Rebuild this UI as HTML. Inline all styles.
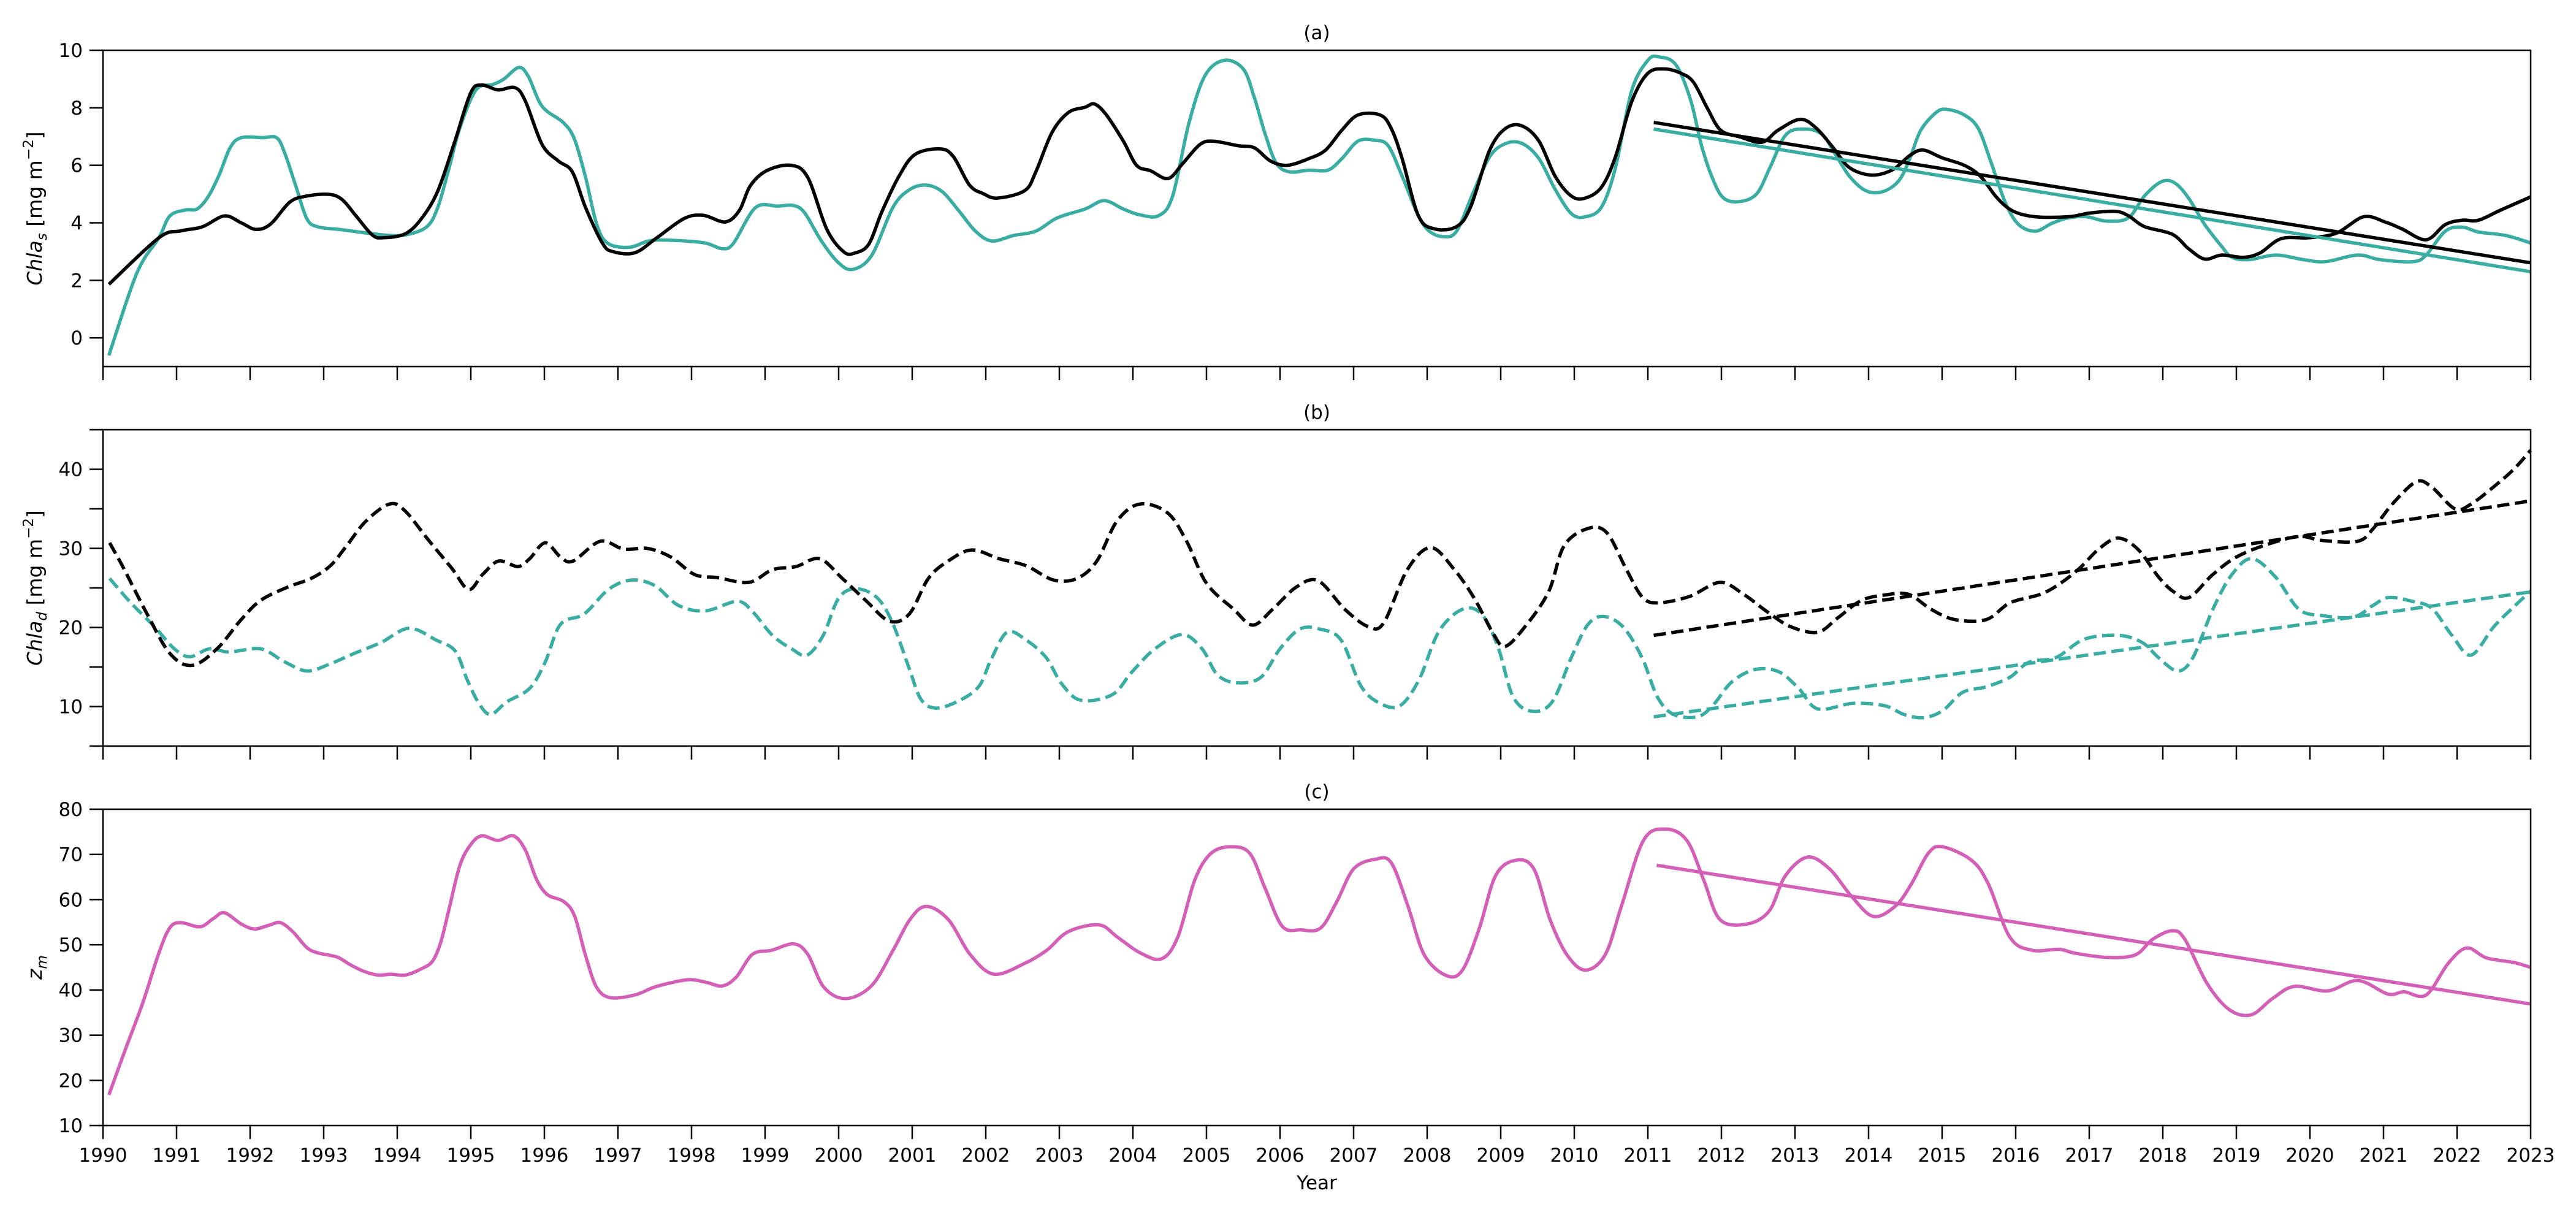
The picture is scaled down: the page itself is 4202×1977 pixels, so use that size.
<!DOCTYPE html>
<html><head><meta charset="utf-8">
<style>
html,body{margin:0;padding:0;background:#fff;}
svg{display:block;font-family:"DejaVu Sans","Liberation Sans",sans-serif;}
</style></head>
<body>
<svg id="chart" width="4202" height="1977" viewBox="0 0 4202 1977" xmlns="http://www.w3.org/2000/svg"></svg>
<script>
// ---- data (years, values) ----
const aTealX=[1990.08,1990.46,1990.76,1990.91,1991.13,1991.28,1991.43,1991.58,1991.73,1991.88,1992.17,1992.36,1992.47,1992.62,1992.77,1992.92,1993.21,1993.81,1994.11,1994.4,1994.55,1994.7,1994.85,1995.07,1995.3,1995.45,1995.65,1995.78,1995.97,1996.26,1996.41,1996.56,1996.71,1996.86,1997.16,1997.46,1997.9,1998.2,1998.42,1998.57,1998.87,1999.17,1999.39,1999.54,1999.76,1999.99,2000.19,2000.45,2000.74,2000.97,2001.19,2001.41,2001.64,2001.86,2002.08,2002.38,2002.68,2002.97,2003.35,2003.61,2003.87,2004.09,2004.35,2004.54,2004.76,2004.98,2005.24,2005.5,2005.65,2005.8,2005.95,2006.13,2006.39,2006.65,2006.84,2007.06,2007.29,2007.47,2007.66,2007.88,2008.03,2008.22,2008.4,2008.62,2008.85,2009.07,2009.29,2009.52,2009.74,2009.96,2010.15,2010.37,2010.56,2010.78,2011.0,2011.15,2011.38,2011.58,2011.73,2011.88,2012.03,2012.25,2012.48,2012.66,2012.88,2013.14,2013.37,2013.55,2013.74,2013.96,2014.19,2014.41,2014.56,2014.71,2014.93,2015.08,2015.3,2015.49,2015.67,2015.86,2016.04,2016.27,2016.49,2016.71,2016.97,2017.23,2017.53,2017.75,2017.98,2018.16,2018.35,2018.57,2018.8,2018.94,2019.17,2019.54,2019.91,2020.21,2020.65,2020.95,2021.4,2021.58,2021.84,2022.07,2022.29,2022.66,2023.0];
const aTealY=[-0.61,2.25,3.48,4.24,4.45,4.48,4.91,5.67,6.62,6.96,6.96,6.96,6.43,5.29,4.15,3.86,3.77,3.58,3.58,3.86,4.53,5.86,7.29,8.62,8.81,9.0,9.4,9.1,8.05,7.48,6.9,5.58,3.96,3.29,3.15,3.39,3.37,3.29,3.1,3.29,4.53,4.58,4.6,4.34,3.39,2.63,2.38,2.87,4.55,5.16,5.31,5.08,4.4,3.71,3.37,3.56,3.71,4.17,4.48,4.77,4.48,4.28,4.25,4.93,7.45,9.12,9.65,9.35,8.36,7.07,6.07,5.77,5.83,5.83,6.23,6.84,6.87,6.68,5.62,4.25,3.71,3.52,3.71,5.01,6.3,6.76,6.76,6.23,5.16,4.32,4.21,4.55,5.92,8.59,9.65,9.77,9.5,8.28,6.68,5.54,4.86,4.74,5.01,5.92,7.07,7.26,7.07,6.38,5.62,5.12,5.08,5.46,6.23,7.22,7.86,7.94,7.75,7.29,6.07,4.7,3.94,3.71,3.98,4.17,4.21,4.06,4.17,4.93,5.43,5.39,4.86,3.94,3.18,2.8,2.72,2.88,2.72,2.65,2.88,2.72,2.65,2.88,3.71,3.85,3.68,3.56,3.3];
const aBlackX=[1990.08,1990.76,1991.06,1991.35,1991.65,1991.88,1992.08,1992.28,1992.54,1992.77,1993.07,1993.25,1993.44,1993.66,1993.81,1994.11,1994.33,1994.55,1994.78,1995.0,1995.15,1995.37,1995.6,1995.74,1995.97,1996.19,1996.38,1996.56,1996.79,1996.93,1997.23,1997.53,1997.9,1998.16,1998.46,1998.65,1998.8,1999.02,1999.35,1999.58,1999.84,2000.07,2000.22,2000.41,2000.59,2000.82,2001.04,2001.38,2001.56,2001.78,2001.97,2002.16,2002.53,2002.68,2002.9,2003.12,2003.35,2003.48,2003.64,2003.87,2004.05,2004.24,2004.48,2004.68,2004.91,2005.09,2005.43,2005.65,2005.87,2006.1,2006.39,2006.62,2006.84,2007.06,2007.36,2007.51,2007.66,2007.88,2008.1,2008.4,2008.59,2008.85,2009.07,2009.29,2009.52,2009.74,2009.96,2010.15,2010.37,2010.56,2010.78,2011.0,2011.23,2011.45,2011.62,2011.81,2011.99,2012.25,2012.55,2012.77,2013.07,2013.29,2013.52,2013.74,2014.04,2014.33,2014.56,2014.74,2015.0,2015.3,2015.52,2015.75,2015.97,2016.27,2016.71,2017.01,2017.35,2017.53,2017.75,2018.13,2018.35,2018.57,2018.8,2019.09,2019.32,2019.61,2019.99,2020.36,2020.73,2021.03,2021.25,2021.58,2021.84,2022.07,2022.29,2022.59,2023.0];
const aBlackY=[1.86,3.48,3.72,3.86,4.24,4.0,3.77,3.96,4.72,4.93,4.99,4.81,4.24,3.58,3.48,3.62,4.15,5.1,6.81,8.53,8.79,8.62,8.7,8.24,6.72,6.15,5.77,4.53,3.29,3.0,2.96,3.48,4.15,4.26,4.03,4.43,5.29,5.81,6.0,5.58,3.77,2.99,2.95,3.26,4.4,5.62,6.38,6.57,6.3,5.31,5.01,4.86,5.12,5.77,7.14,7.83,8.02,8.13,7.75,6.84,6.0,5.81,5.54,6.07,6.72,6.84,6.68,6.61,6.15,6.0,6.23,6.53,7.22,7.75,7.75,7.29,6.23,4.25,3.79,3.87,4.55,6.53,7.29,7.37,6.84,5.62,4.93,4.86,5.24,6.3,8.21,9.2,9.35,9.2,8.89,7.98,7.22,6.99,6.8,7.22,7.6,7.29,6.61,5.92,5.66,5.85,6.34,6.53,6.26,6.0,5.62,4.86,4.4,4.21,4.21,4.34,4.4,4.25,3.87,3.6,3.1,2.74,2.88,2.8,2.95,3.45,3.48,3.64,4.21,4.02,3.79,3.41,3.94,4.09,4.09,4.44,4.9];
const aTrendX=[2011.08,2023.0];
const aTrendBlack=[7.49,2.61];
const aTrendTeal=[7.26,2.3];

const bBlackX=[1990.09,1990.28,1990.6,1990.91,1991.21,1991.55,1991.87,1992.14,1992.51,1992.83,1993.09,1993.31,1993.57,1993.89,1994.1,1994.42,1994.74,1994.97,1995.16,1995.38,1995.64,1995.8,1996.01,1996.22,1996.39,1996.76,1997.08,1997.4,1997.72,1998.04,1998.35,1998.78,1999.1,1999.42,1999.74,2000.05,2000.37,2000.69,2000.96,2001.22,2001.49,2001.81,2002.18,2002.55,2002.92,2003.24,2003.51,2003.78,2004.09,2004.47,2004.73,2005.0,2005.37,2005.63,2005.9,2006.22,2006.52,2006.88,2007.2,2007.41,2007.73,2008.05,2008.37,2008.64,2008.9,2009.06,2009.33,2009.65,2009.86,2010.18,2010.44,2010.71,2010.92,2011.13,2011.56,2011.98,2012.3,2012.62,2012.94,2013.31,2013.58,2013.9,2014.22,2014.54,2014.85,2015.17,2015.6,2015.92,2016.34,2016.61,2016.87,2017.14,2017.4,2017.67,2017.94,2018.15,2018.36,2018.68,2019.0,2019.42,2019.85,2020.17,2020.65,2020.86,2021.12,2021.44,2021.65,2021.97,2022.19,2022.5,2022.77,2023.0];
const bBlackY=[30.7,27.5,21.7,16.7,15.2,17.3,20.9,23.4,25.1,26.2,27.8,30.3,33.4,35.6,34.8,31.1,27.5,24.8,26.7,28.4,27.7,28.7,30.7,28.9,28.4,30.9,29.9,30.0,28.9,26.7,26.3,25.7,27.3,27.7,28.7,26.2,23.4,20.8,21.7,26.2,28.4,29.8,28.7,27.8,26.0,26.2,28.4,33.4,35.6,34.5,30.9,25.6,22.3,20.3,22.3,25.1,25.9,22.3,20.1,20.6,27.3,30.1,27.3,23.7,19.2,17.6,20.1,24.5,30.3,32.5,32.0,27.3,23.9,23.1,23.9,25.7,24.2,22.0,20.1,19.4,21.2,23.4,24.1,24.2,22.3,21.0,21.0,23.1,24.2,25.6,27.5,30.0,31.3,29.8,26.4,24.5,23.8,26.7,28.9,30.5,31.5,31.0,30.9,32.5,35.6,38.4,37.8,35.0,35.6,37.8,40.0,42.4];
const bTealX=[1990.09,1990.38,1990.7,1990.97,1991.18,1991.45,1991.71,1992.14,1992.46,1992.77,1993.09,1993.41,1993.78,1994.16,1994.53,1994.79,1994.95,1995.11,1995.27,1995.49,1995.8,1996.01,1996.22,1996.54,1996.87,1997.18,1997.5,1997.82,1998.19,1998.62,1998.83,1999.1,1999.36,1999.57,1999.79,2000.0,2000.24,2000.53,2000.74,2000.96,2001.12,2001.33,2001.65,2001.91,2002.07,2002.29,2002.55,2002.82,2003.03,2003.29,2003.72,2003.98,2004.3,2004.67,2004.94,2005.15,2005.42,2005.74,2006.0,2006.27,2006.54,2006.83,2007.1,2007.36,2007.63,2007.89,2008.16,2008.48,2008.74,2008.96,2009.17,2009.43,2009.7,2009.96,2010.18,2010.39,2010.66,2010.92,2011.13,2011.35,2011.67,2011.88,2012.14,2012.46,2012.78,2013.05,2013.31,2013.79,2014.22,2014.48,2014.75,2015.01,2015.28,2015.6,2015.92,2016.18,2016.55,2016.93,2017.4,2017.72,2017.94,2018.2,2018.41,2018.68,2018.94,2019.21,2019.53,2019.85,2020.17,2020.59,2020.86,2021.07,2021.39,2021.66,2021.93,2022.19,2022.5,2022.77,2023.0];
const bTealY=[26.2,23.1,20.1,17.3,16.3,17.3,16.9,17.3,15.7,14.5,15.4,16.7,18.1,19.9,18.4,17.0,13.4,10.4,9.0,10.6,12.3,15.6,20.4,21.7,24.8,26.0,25.3,22.8,22.1,23.3,22.0,19.0,17.3,16.5,19.0,23.7,24.9,23.7,20.4,14.8,10.9,9.8,10.8,12.6,15.9,19.4,18.4,16.2,12.9,10.8,11.5,14.3,17.3,19.1,17.3,14.0,13.0,13.7,17.3,19.8,19.8,18.4,12.6,10.4,10.1,13.4,19.5,22.3,21.7,17.6,11.2,9.4,10.6,16.2,20.3,21.4,20.1,16.2,11.2,9.0,8.7,10.1,13.1,14.7,14.4,12.3,9.7,10.4,10.1,9.0,8.6,9.5,11.8,12.5,13.7,15.6,16.2,18.5,19.0,18.1,16.2,14.5,16.2,22.3,26.7,28.7,26.4,22.3,21.5,21.3,22.8,23.8,23.3,22.4,19.0,16.5,20.1,22.6,24.6];
const bTrendX=[2011.08,2023.0];
const bTrendBlack=[19.0,36.0];
const bTrendTeal=[8.7,24.5];

const cX=[1990.08,1990.31,1990.54,1990.76,1990.91,1991.06,1991.32,1991.5,1991.65,1991.88,1992.06,1992.25,1992.41,1992.58,1992.77,1992.92,1993.18,1993.36,1993.55,1993.74,1993.92,1994.11,1994.33,1994.48,1994.59,1994.7,1994.85,1995.0,1995.15,1995.37,1995.58,1995.74,1995.89,1996.04,1996.26,1996.41,1996.56,1996.71,1996.9,1997.23,1997.49,1997.75,1997.98,1998.2,1998.42,1998.61,1998.83,1999.09,1999.39,1999.58,1999.8,2000.1,2000.45,2000.74,2000.97,2001.19,2001.49,2001.79,2002.11,2002.53,2002.83,2003.12,2003.54,2003.79,2004.09,2004.39,2004.61,2004.84,2005.06,2005.33,2005.59,2005.8,2006.03,2006.28,2006.55,2006.77,2007.0,2007.29,2007.51,2007.74,2007.96,2008.26,2008.48,2008.71,2008.93,2009.2,2009.45,2009.67,2009.9,2010.15,2010.42,2010.64,2010.94,2011.24,2011.53,2011.76,2011.98,2012.35,2012.65,2012.87,2013.17,2013.47,2013.76,2014.06,2014.36,2014.58,2014.81,2015.0,2015.4,2015.63,2015.92,2016.22,2016.59,2016.82,2017.26,2017.63,2017.86,2018.13,2018.3,2018.6,2018.9,2019.2,2019.49,2019.79,2020.24,2020.65,2021.06,2021.28,2021.58,2021.88,2022.13,2022.4,2022.77,2023.0];
const cY=[16.8,27.1,37.1,48.2,53.8,54.9,54.0,55.8,57.1,54.6,53.5,54.3,54.9,52.9,49.4,48.2,47.3,45.6,44.1,43.3,43.5,43.3,44.7,46.4,50.5,57.6,67.5,72.2,74.1,73.1,74.1,71.0,64.6,61.1,59.6,56.4,47.6,40.6,38.3,38.9,40.6,41.7,42.3,41.7,40.9,42.9,47.9,48.8,50.2,47.9,40.6,38.1,41.0,48.8,55.6,58.5,55.6,47.8,43.5,45.9,48.8,52.9,54.4,51.7,48.3,46.9,51.7,64.3,70.2,71.7,70.2,62.4,54.1,53.3,53.7,59.5,66.8,68.9,68.2,58.5,47.8,43.2,44.4,53.7,65.3,68.7,66.8,55.6,47.8,44.4,47.8,58.5,73.1,75.6,73.1,64.3,55.6,54.6,57.5,65.3,69.4,66.8,60.9,56.3,58.5,63.4,70.2,71.7,68.7,63.4,51.7,48.8,49.0,48.1,47.2,47.8,51.2,53.1,51.2,41.5,35.7,34.5,38.1,40.8,39.8,42.1,39.1,39.6,38.9,45.9,49.3,47.1,46.1,45.0];
const cTrendX=[2011.12,2023.0];
const cTrendY=[67.6,36.9];

const yearTicks=[1990,1991,1992,1993,1994,1995,1996,1997,1998,1999,2000,2001,2002,2003,2004,2005,2006,2007,2008,2009,2010,2011,2012,2013,2014,2015,2016,2017,2018,2019,2020,2021,2022,2023];
const aTicks=[0,2,4,6,8,10];
const bTicks=[5,10,15,20,25,30,35,40,45];
const bTickLabels=["","10","","20","","30","","40",""];
const cTicks=[10,20,30,40,50,60,70,80];

const TEAL="#3aada2", BLACK="#000000", MAG="#d35fb7";
const svg=document.getElementById('chart');
const NS="http://www.w3.org/2000/svg";
const L=168,R=4128;
const xs=y=>L+(y-1990)*(R-L)/33;
function mk(tag,attrs,parent){const e=document.createElementNS(NS,tag);for(const k in attrs)e.setAttribute(k,attrs[k]);(parent||svg).appendChild(e);return e;}
function path(xsA,ysA,sx,sy){
  const p=xsA.map((x,i)=>[sx(x),sy(ysA[i])]);
  if(p.length<3) return 'M'+p.map(q=>q[0].toFixed(1)+','+q[1].toFixed(1)).join(' L');
  let d='M'+p[0][0].toFixed(1)+','+p[0][1].toFixed(1);
  for(let i=0;i<p.length-1;i++){
    const p0=p[i-1]||p[i],p1=p[i],p2=p[i+1],p3=p[i+2]||p[i+1];
    const c1=[p1[0]+(p2[0]-p0[0])/6,p1[1]+(p2[1]-p0[1])/6];
    const c2=[p2[0]-(p3[0]-p1[0])/6,p2[1]-(p3[1]-p1[1])/6];
    d+=' C'+c1.map(v=>v.toFixed(1)).join(',')+' '+c2.map(v=>v.toFixed(1)).join(',')+' '+p2.map(v=>v.toFixed(1)).join(',');
  }
  return d;
}
function panel(name,top,bot,ymin,ymax,ticks,labels,title,showX){
  const g=mk('g',{});
  
  
  const sy=v=>bot-(v-ymin)*(bot-top)/(ymax-ymin);
  const t=mk('text',{x:(L+R)/2,y:top-18,'font-size':31,'text-anchor':'middle'},g);t.textContent=title;
  
  ticks.forEach((v,i)=>{
    const tk=mk('line',{x1:L-22,x2:L,y1:sy(v),y2:sy(v),stroke:'#000','stroke-width':2.5},g);
    
    const lab=labels?labels[i]:String(v);
    if(lab){const tx=mk('text',{x:L-33,y:sy(v)+11,'font-size':31,'text-anchor':'end'},g);tx.textContent=lab;
      }
  });
  yearTicks.forEach(yr=>{
    const tk=mk('line',{x1:xs(yr),x2:xs(yr),y1:bot,y2:bot+22,stroke:'#000','stroke-width':2.5},g);
    
    if(showX){const tx=mk('text',{x:xs(yr),y:1895,'font-size':31,'text-anchor':'middle'},g);tx.textContent=String(yr);
      }
  });
  return {g,sy};
}
function line(g,name,X,Y,sy,color,dash){
  const p=mk('path',{d:path(X,Y,xs,sy),fill:'none',stroke:color,'stroke-width':5.5,'stroke-linejoin':'round'},g);
  if(dash)p.setAttribute('stroke-dasharray','20 9');
  
  
}
function frame(g,name,top,bot){
  const r=mk('rect',{x:L,y:top,width:R-L,height:bot-top,fill:'none',stroke:'#000','stroke-width':2.5},g);
  
}
function ylab(g,name,cy,html){
  const t=mk('text',{x:0,y:0,'font-size':33,'text-anchor':'middle',transform:'translate(68,'+cy+') rotate(-90)'},g);
  t.innerHTML=html;
}
// panel a
let P=panel('panel-a',82,598,-1,10,aTicks,null,'(a)',false);
line(P.g,'chla-s-teal-line',aTealX,aTealY,P.sy,TEAL);
line(P.g,'chla-s-black-line',aBlackX,aBlackY,P.sy,BLACK);
line(P.g,'chla-s-teal-trend',aTrendX,aTrendTeal,P.sy,TEAL);
line(P.g,'chla-s-black-trend',aTrendX,aTrendBlack,P.sy,BLACK);
frame(P.g,'panel-a',82,598);
ylab(P.g,'y-axis-title-a',340,'<tspan font-style="italic">Chla</tspan><tspan font-style="italic" font-size="23" dy="8">s</tspan><tspan dy="-8"> [mg m</tspan><tspan font-size="23" dy="-14">−2</tspan><tspan dy="14">]</tspan>');
// panel b
P=panel('panel-b',701,1217,5,45,bTicks,bTickLabels,'(b)',false);
line(P.g,'chla-d-teal-line',bTealX,bTealY,P.sy,TEAL,true);
line(P.g,'chla-d-black-line',bBlackX,bBlackY,P.sy,BLACK,true);
line(P.g,'chla-d-teal-trend',bTrendX,bTrendTeal,P.sy,TEAL,true);
line(P.g,'chla-d-black-trend',bTrendX,bTrendBlack,P.sy,BLACK,true);
frame(P.g,'panel-b',701,1217);
ylab(P.g,'y-axis-title-b',959,'<tspan font-style="italic">Chla</tspan><tspan font-style="italic" font-size="23" dy="8">d</tspan><tspan dy="-8"> [mg m</tspan><tspan font-size="23" dy="-14">−2</tspan><tspan dy="14">]</tspan>');
// panel c
P=panel('panel-c',1320,1836,10,80,cTicks,null,'(c)',true);
line(P.g,'zm-line',cX,cY,P.sy,MAG);
line(P.g,'zm-trend',cTrendX,cTrendY,P.sy,MAG);
frame(P.g,'panel-c',1320,1836);
ylab(P.g,'y-axis-title-c',1578,'<tspan font-style="italic">z</tspan><tspan font-style="italic" font-size="23" dy="8">m</tspan>');
const xt=mk('text',{x:(L+R)/2,y:1940,'font-size':31,'text-anchor':'middle'});
xt.textContent='Year';


</script>
</body></html>
